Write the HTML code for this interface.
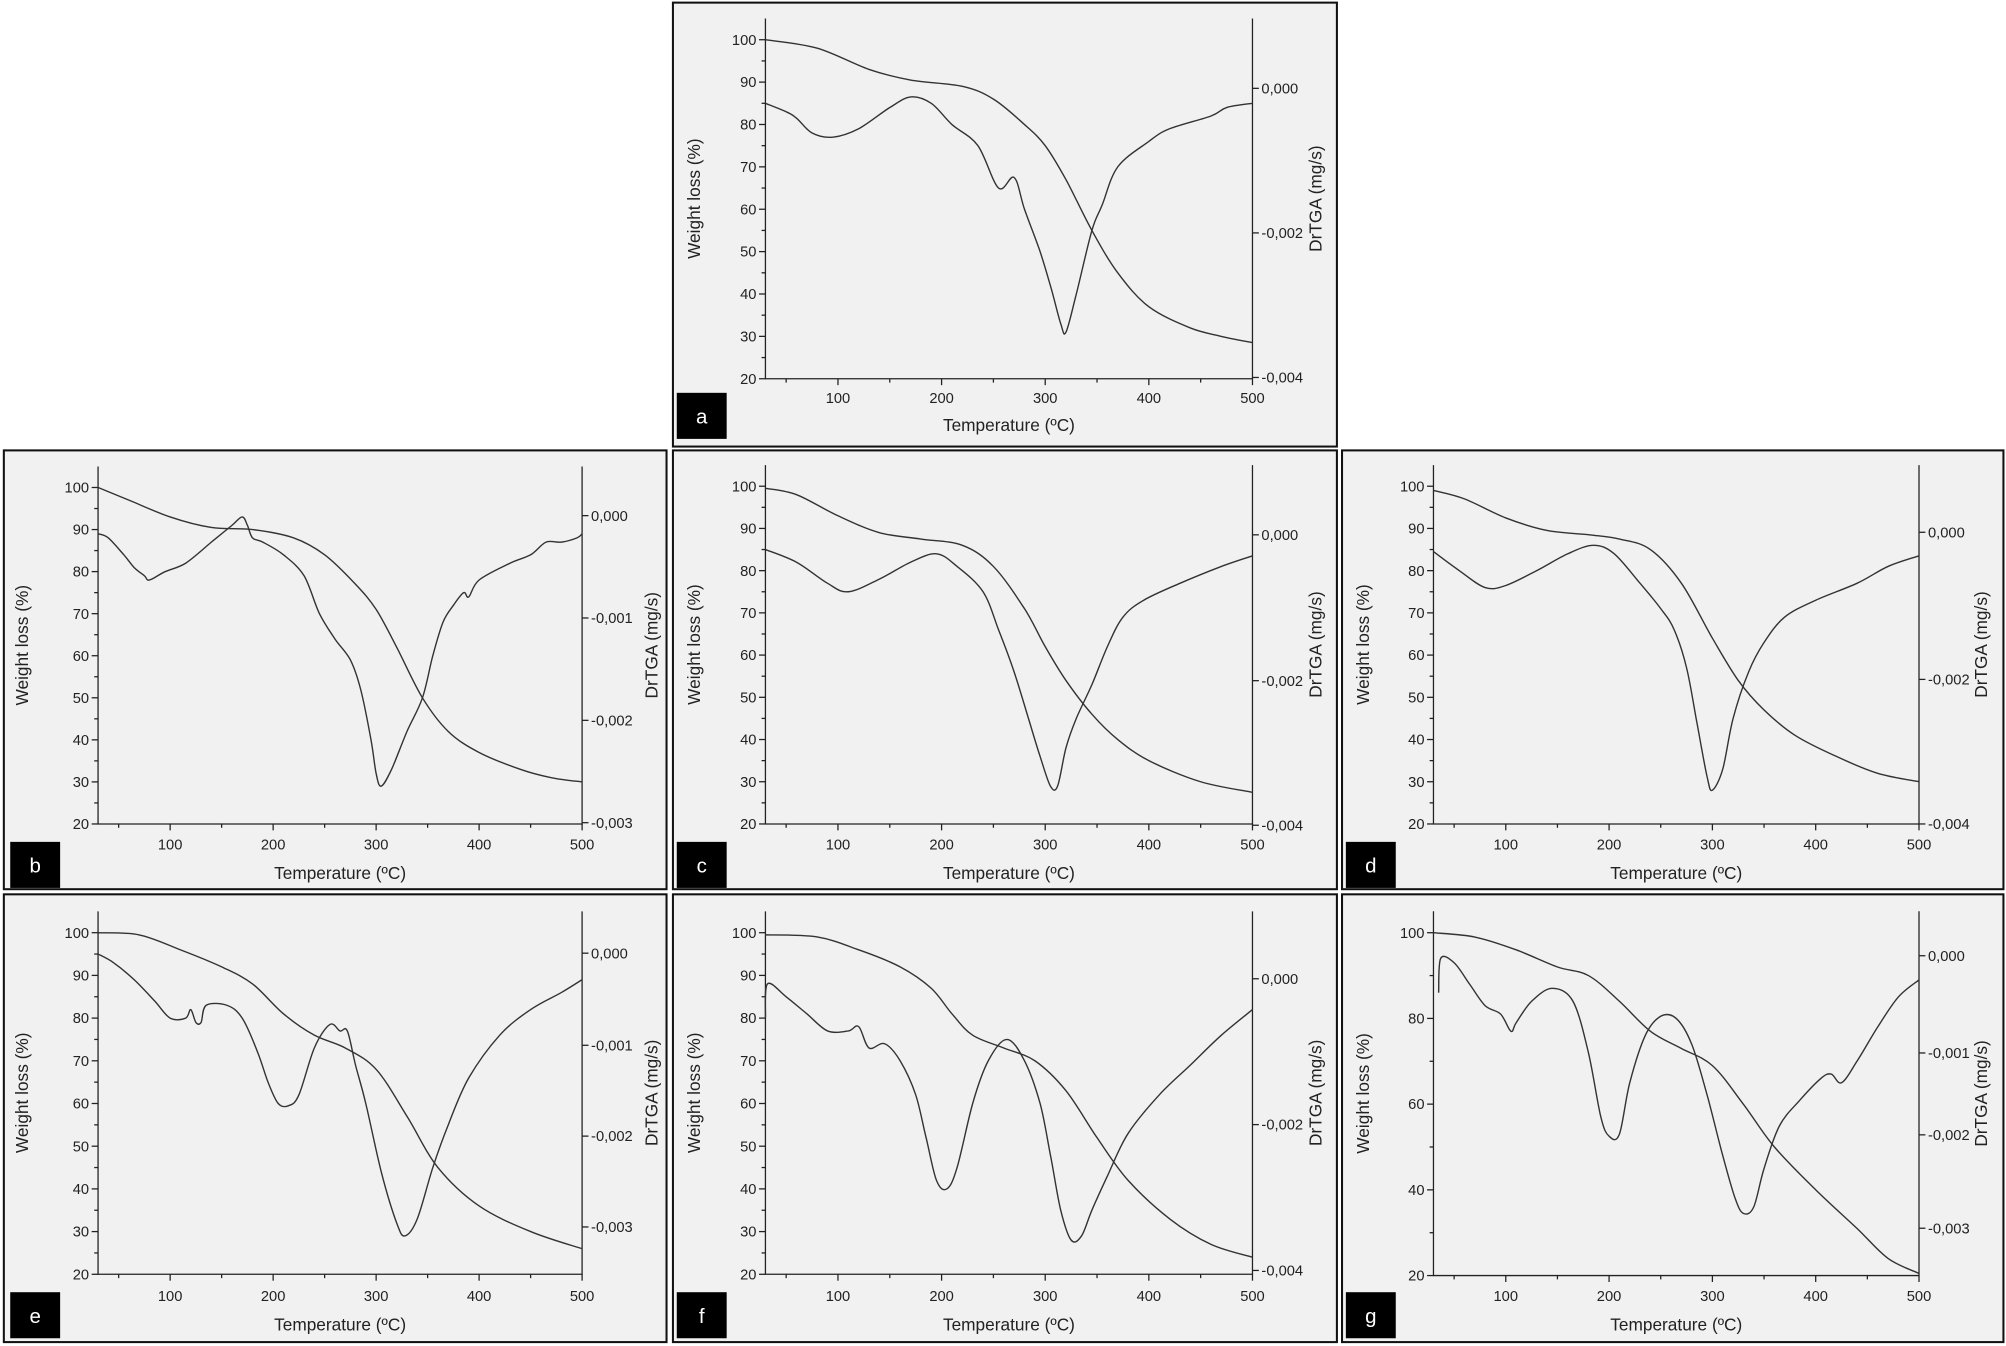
<!DOCTYPE html>
<html><head><meta charset="utf-8"><style>
html,body{margin:0;padding:0;background:#fff;}
svg{display:block;}
text{font-family:"Liberation Sans",Arial,sans-serif;fill:#222;}
</style></head><body>
<svg id="s" width="2006" height="1346" viewBox="0 0 1568 1052" xmlns="http://www.w3.org/2000/svg"></svg>
<script>
var P=[
{f:[526,2,519,347],x1:655,x5:979,y1:31,y2:296,step:10,r:[["0,000",69],["-0,002",182],["-0,004",295]],L:"a",lb:[529,307],xt:332,tl:311,yt:543,rt:1029,
T:[[30,100],[80,98],[130,93],[170,90.5],[220,89],[250,86],[280,80],[300,75],[320,67],[345,55],[370,45],[400,37],[440,32],[470,30],[500,28.5]],
D:[[30,85],[50,83],[60,81.5],[75,78],[95,77],[120,79],[150,84],[170,86.5],[190,85],[210,80],[235,75],[255,65],[270,67.5],[280,60],[295,50],[305,42],[315,33],[320,31],[330,40],[345,55],[355,61],[370,70],[400,76],[420,79],[460,82],[475,84],[500,85]]},
{f:[3,352,518,343],x1:133,x5:455,y1:381,y2:644,step:10,r:[["0,000",403],["-0,001",483],["-0,002",563],["-0,003",643]],L:"b",lb:[8,658],xt:682,tl:660,yt:18,rt:510,
T:[[30,100],[60,97],[100,93],[140,90.5],[180,90],[220,88],[250,84],[280,77],[300,71],[320,62],[345,50],[370,42],[400,37],[440,33],[470,31],[500,30]],
D:[[30,89],[40,88],[55,84],[65,81],[75,79],[80,78],[95,80],[115,82],[140,87],[160,91],[170,93],[175,91],[180,88],[190,87],[210,84],[230,79],[245,70],[260,64],[275,59],[285,52],[295,40],[300,32],[305,29],[315,33],[330,42],[345,50],[355,60],[365,68],[375,72],[385,75],[390,74],[400,78],[430,82],[450,84],[465,87],[480,87],[495,88],[500,89]]},
{f:[526,352,519,343],x1:655,x5:979,y1:380,y2:644,step:10,r:[["0,000",418],["-0,002",532],["-0,004",645]],L:"c",lb:[529,658],xt:682,tl:660,yt:543,rt:1029,
T:[[30,99.5],[60,98],[100,93],[140,89],[180,87.5],[220,86],[250,81],[280,71],[300,62],[320,54],[345,46],[370,40],[400,35],[450,30],[500,27.5]],
D:[[30,85],[60,82],[90,77],[110,75],[140,78],[170,82],[195,84],[215,81],[240,75],[255,66],[270,56],[285,44],[295,36],[305,29],[312,29],[320,38],[330,45],[345,53],[360,62],[375,69],[395,73],[430,77],[470,81],[500,83.5]]},
{f:[1049,352,517,343],x1:1177,x5:1500,y1:380,y2:644,step:10,r:[["0,000",416],["-0,002",531],["-0,004",644]],L:"d",lb:[1052,658],xt:682,tl:660,yt:1066,rt:1549,
T:[[30,99],[60,97],[100,92.5],[140,89.5],[180,88.5],[210,87.5],[240,85],[270,77],[300,64],[325,54],[350,47],[380,41],[420,36],[460,32],[500,30]],
D:[[30,84.5],[55,80],[80,76],[100,76.5],[130,80],[160,84],[185,86],[205,84],[230,77],[250,71],[263,66],[275,57],[285,44],[295,31],[300,28],[310,33],[320,45],[335,56],[350,63],[370,69],[400,73],[440,77],[470,81],[500,83.5]]},
{f:[3,699,518,350],x1:133,x5:455,y1:729,y2:996,step:10,r:[["0,000",745],["-0,001",817],["-0,002",888],["-0,003",959]],L:"e",lb:[8,1010],xt:1035,tl:1013,yt:18,rt:510,
T:[[30,100],[70,99.5],[110,96],[150,92],[180,88],[210,81],[240,76],[270,73],[300,68],[330,57],[360,45],[400,36],[450,30],[500,26]],
D:[[30,95],[45,93],[65,89],[85,84],[100,80],[115,80],[120,82],[125,79],[130,79],[135,83],[155,83],[170,80],[185,72],[195,65],[205,60],[215,59.5],[225,62],[240,73],[255,78.5],[265,77],[272,77],[280,69],[290,60],[305,44],[320,32],[328,29],[340,33],[355,45],[370,55],[390,66],[420,76],[450,82],[480,86],[500,89]]},
{f:[526,699,519,350],x1:655,x5:979,y1:729,y2:996,step:10,r:[["0,000",765],["-0,002",879],["-0,004",993]],L:"f",lb:[529,1010],xt:1035,tl:1013,yt:543,rt:1029,
T:[[30,99.5],[80,99],[120,96],[160,92],[190,87],[210,81],[230,76],[260,73],[290,70],[320,63],[350,52],[380,42],[420,33],[460,27],[500,24]],
D:[[30,80],[32,88],[50,85],[70,81],[90,77],[110,77],[120,78],[130,73],[145,74],[160,70],[175,62],[185,52],[195,42],[205,40],[215,45],[230,60],[245,70],[263,75],[280,70],[295,60],[305,48],[315,35],[325,28],[335,29],[345,35],[360,43],[380,53],[410,62],[440,69],[470,76],[500,82]]},
{f:[1049,699,517,350],x1:1177,x5:1500,y1:729,y2:997,step:20,r:[["0,000",747],["-0,001",823],["-0,002",887],["-0,003",960]],L:"g",lb:[1052,1010],xt:1035,tl:1013,yt:1066,rt:1549,
T:[[30,100],[70,99],[110,96],[150,92],[180,90],[210,84],[240,77],[270,73],[300,69],[330,60],[360,50],[400,40],[440,31],[470,24],[500,20.5]],
D:[[35,86],[37,94],[50,93],[65,88],[80,83],[95,81],[105,77],[110,79],[125,84],[145,87],[165,84],[180,72],[192,57],[200,52.5],[210,53],[220,65],[235,76],[250,80.5],[265,80],[280,74],[295,62],[310,48],[322,38],[330,34.5],[340,36],[350,45],[365,55],[385,61],[405,66],[415,67],[425,65],[440,70],[460,78],[480,85],[500,89]]}
];
var s="";
function path(pts){var d="M"+pts[0][0].toFixed(1)+" "+pts[0][1].toFixed(1);
for(var i=0;i<pts.length-1;i++){var p0=pts[Math.max(i-1,0)],p1=pts[i],p2=pts[i+1],p3=pts[Math.min(i+2,pts.length-1)];
d+=" C"+(p1[0]+(p2[0]-p0[0])/6).toFixed(1)+" "+(p1[1]+(p2[1]-p0[1])/6).toFixed(1)+" "+(p2[0]-(p3[0]-p1[0])/6).toFixed(1)+" "+(p2[1]-(p3[1]-p1[1])/6).toFixed(1)+" "+p2[0].toFixed(1)+" "+p2[1].toFixed(1);}
return d;}
P.forEach(function(p){
var f=p.f;var X=function(t){return p.x1+(t-100)*(p.x5-p.x1)/400};var Y=function(v){return p.y2-(v-20)*(p.y2-p.y1)/80};
var L=X(30),R=X(500),B=Y(20),Tp=Y(105);
s+='<rect x="'+f[0]+'" y="'+f[1]+'" width="'+f[2]+'" height="'+f[3]+'" fill="#f1f1f1" stroke="#111" stroke-width="1.6"/>';
s+='<path d="M'+L+' '+Tp+'V'+B+'H'+R+'V'+Tp+'" fill="none" stroke="#222" stroke-width="1"/>';
for(var t=50;t<=500;t+=50){var x=X(t);s+='<line x1="'+x+'" y1="'+B+'" x2="'+x+'" y2="'+(B+(t%100?3:5))+'" stroke="#222"/>';if(t%100==0)s+='<text x="'+x+'" y="'+(p.tl+4)+'" font-size="11.5" text-anchor="middle">'+t+'</text>';}
for(var v=20;v<=100;v+=p.step/2){var y=Y(v);var maj=((v-20)%p.step)==0;s+='<line x1="'+(L-(maj?5:3))+'" y1="'+y+'" x2="'+L+'" y2="'+y+'" stroke="#222"/>';if(maj)s+='<text x="'+(L-7)+'" y="'+(y+4)+'" font-size="11.5" text-anchor="end">'+v+'</text>';}
p.r.forEach(function(r){s+='<line x1="'+R+'" y1="'+r[1]+'" x2="'+(R+5)+'" y2="'+r[1]+'" stroke="#222"/><text x="'+(R+7)+'" y="'+(r[1]+4)+'" font-size="11.5">'+r[0]+'</text>';});
var mid=(Tp+B)/2;
s+='<text x="'+((L+R)/2)+'" y="'+(p.xt+5)+'" font-size="13.5" text-anchor="middle">Temperature (ºC)</text>';
s+='<text transform="translate('+p.yt+','+mid+') rotate(-90)" font-size="13.5" text-anchor="middle" dy="4">Weight loss (%)</text>';
s+='<text transform="translate('+p.rt+','+mid+') rotate(-90)" font-size="13.5" text-anchor="middle" dy="4">DrTGA (mg/s)</text>';
s+='<rect x="'+p.lb[0]+'" y="'+p.lb[1]+'" width="39" height="36" fill="#000"/><text x="'+(p.lb[0]+19.5)+'" y="'+(p.lb[1]+24)+'" font-size="16" text-anchor="middle" style="fill:#fff">'+p.L+'</text>';
[p.T,p.D].forEach(function(c){s+='<path d="'+path(c.map(function(q){return [X(q[0]),Y(q[1])]}))+'" fill="none" stroke="#333" stroke-width="1.1"/>';});
});
document.getElementById("s").innerHTML=s;
</script>
</body></html>
